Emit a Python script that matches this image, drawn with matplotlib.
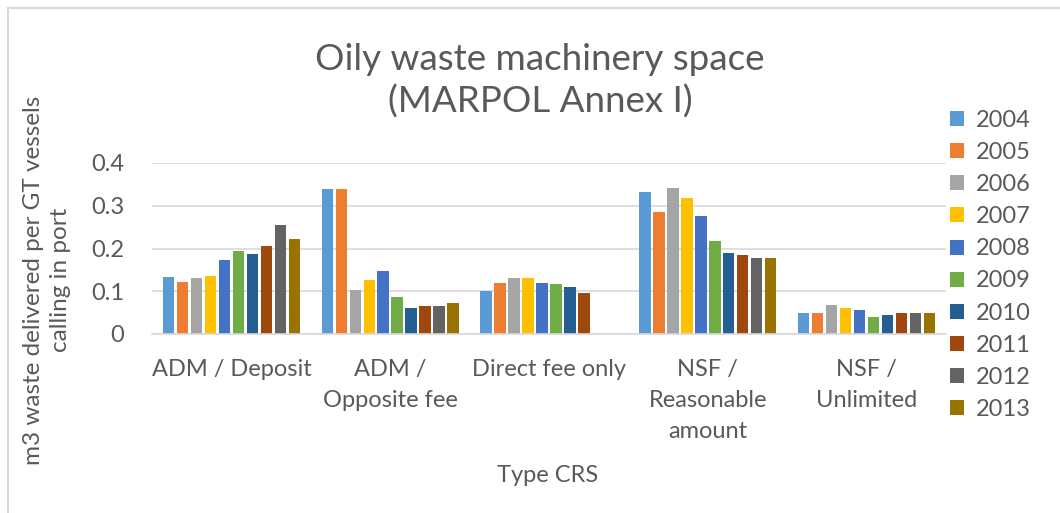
import numpy as np
import matplotlib
matplotlib.use('Agg')
import matplotlib.pyplot as plt
from matplotlib.patches import Rectangle

plt.rcParams['font.family'] = ['Lato', 'DejaVu Sans']

categories = ['ADM / Deposit', 'ADM /\nOpposite fee', 'Direct fee only',
              'NSF /\nReasonable\namount', 'NSF /\nUnlimited']
years = ['2004', '2005', '2006', '2007', '2008',
         '2009', '2010', '2011', '2012', '2013']

# values per year, one entry per category
v2004 = [0.133, 0.339, 0.100, 0.333, 0.050]
v2005 = [0.121, 0.339, 0.120, 0.286, 0.050]
v2006 = [0.130, 0.103, 0.130, 0.342, 0.067]
v2007 = [0.136, 0.127, 0.130, 0.319, 0.061]
v2008 = [0.173, 0.147, 0.120, 0.276, 0.057]
v2009 = [0.193, 0.087, 0.117, 0.217, 0.040]
v2010 = [0.187, 0.061, 0.110, 0.190, 0.044]
v2011 = [0.207, 0.066, 0.097, 0.184, 0.048]
v2012 = [0.256, 0.066, np.nan, 0.177, 0.048]
v2013 = [0.223, 0.073, np.nan, 0.177, 0.048]
series = [v2004, v2005, v2006, v2007, v2008, v2009, v2010, v2011, v2012, v2013]

colors = ['#5B9BD5', '#ED7D31', '#A5A5A5', '#FFC000', '#4472C4',
          '#70AD47', '#255E91', '#9E480E', '#636363', '#997300']

txt = '#595959'
grid = '#D9D9D9'

#==============================================================================
fig = plt.figure(figsize=(10.6, 5.13), dpi=100)
ax = fig.add_axes([152/1060, 1-334/513, (946-152)/1060, (334-163)/513])

x = np.arange(len(categories))
pitch = 0.088
width = 0.072
for i, (vals, c, yr) in enumerate(zip(series, colors, years)):
    off = (i - 4.5) * pitch
    ax.bar(x + off, vals, width, color=c, label=yr, zorder=2)

ax.set_xlim(-0.5, len(categories) - 0.5)
ax.set_ylim(0, 0.4)
ax.set_yticks([0, 0.1, 0.2, 0.3, 0.4])
ax.set_yticklabels(['0', '0.1', '0.2', '0.3', '0.4'])
ax.set_xticks(x)
ax.set_xticklabels(categories, linespacing=1.6)
ax.tick_params(axis='both', length=0, labelsize=17, colors=txt)
ax.tick_params(axis='y', pad=20)
ax.tick_params(axis='x', pad=18)
for lbl in ax.get_xticklabels():
    lbl.set_verticalalignment('top')

ax.yaxis.grid(True, color=grid, lw=1.2, zorder=0)
ax.set_axisbelow(True)
for s in ['top', 'right', 'left']:
    ax.spines[s].set_visible(False)
ax.spines['bottom'].set_color(grid)
ax.spines['bottom'].set_linewidth(1.2)

fig.text(540/1060, 1-81/513, 'Oily waste machinery space\n(MARPOL Annex I)',
         ha='center', va='center', fontsize=26.5, color=txt, linespacing=1.3)
fig.text(47/1060, 1-280/513, 'm3 waste delivered per GT vessels\ncalling in port',
         ha='center', va='center', rotation=90, fontsize=17.5, color=txt,
         linespacing=1.3)
fig.text(548/1060, 1-475/513, 'Type CRS', ha='center', va='center',
         fontsize=17, color=txt)

leg = ax.legend(loc='upper left', bbox_to_anchor=(950/1060, 1-110/513),
                bbox_transform=fig.transFigure, frameon=False, fontsize=17,
                handlelength=0.6, handleheight=0.6, handletextpad=0.5,
                labelspacing=0.47, borderaxespad=0, borderpad=0)
for t in leg.get_texts():
    t.set_color(txt)

fig.patches.append(Rectangle((8/1060, -0.1), 1.2, 1.1 - 8/513,
                             transform=fig.transFigure, fill=False,
                             edgecolor=grid, lw=1.5))

plt.savefig('out.png', dpi=100)
plt.close(fig)
